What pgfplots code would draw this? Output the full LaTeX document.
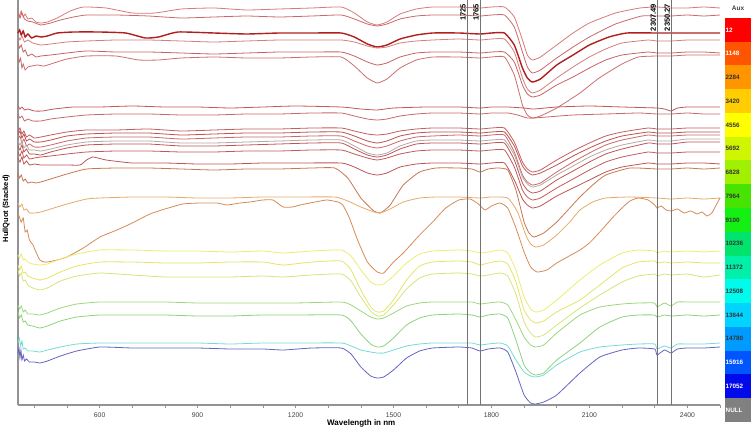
\documentclass[border=0pt]{standalone}
\usepackage{pgfplots}
\pgfplotsset{compat=1.18}
\usepackage{fontspec}
\setmainfont{Liberation Sans}

% curve colours (top to bottom)
\definecolor{c1}{RGB}{214,122,122}
\definecolor{c2}{RGB}{204,104,104}
\definecolor{c3}{RGB}{176,30,30}
\definecolor{c4}{RGB}{212,126,126}
\definecolor{c5}{RGB}{200,98,98}
\definecolor{c6}{RGB}{202,110,110}
\definecolor{c7}{RGB}{196,88,88}
\definecolor{c8}{RGB}{200,104,104}
\definecolor{c9}{RGB}{196,94,94}
\definecolor{c10}{RGB}{188,82,82}
\definecolor{c11}{RGB}{204,104,104}
\definecolor{c12}{RGB}{180,168,168}
\definecolor{c13}{RGB}{190,84,84}
\definecolor{c14}{RGB}{192,90,90}
\definecolor{c15}{RGB}{188,86,86}
\definecolor{c16}{RGB}{198,120,80}
\definecolor{c17}{RGB}{230,170,104}
\definecolor{c18}{RGB}{214,138,88}
\definecolor{c19}{RGB}{236,236,112}
\definecolor{c20}{RGB}{228,228,106}
\definecolor{c21}{RGB}{214,228,120}
\definecolor{c22}{RGB}{158,214,124}
\definecolor{c23}{RGB}{142,210,124}
\definecolor{c24}{RGB}{116,220,210}
\definecolor{c25}{RGB}{100,100,196}
% colour bar
\definecolor{cb1}{RGB}{255,0,0}
\definecolor{cb2}{RGB}{255,85,0}
\definecolor{cb3}{RGB}{255,150,0}
\definecolor{cb4}{RGB}{255,205,0}
\definecolor{cb5}{RGB}{255,255,0}
\definecolor{cb6}{RGB}{208,245,0}
\definecolor{cb7}{RGB}{160,240,0}
\definecolor{cb8}{RGB}{70,228,0}
\definecolor{cb9}{RGB}{20,240,20}
\definecolor{cb10}{RGB}{0,228,110}
\definecolor{cb11}{RGB}{0,240,170}
\definecolor{cb12}{RGB}{0,250,235}
\definecolor{cb13}{RGB}{0,212,255}
\definecolor{cb14}{RGB}{0,155,255}
\definecolor{cb15}{RGB}{0,85,255}
\definecolor{cb16}{RGB}{0,10,235}
\definecolor{cb17}{RGB}{128,128,128}

\begin{document}
\begin{tikzpicture}
\useasboundingbox (-18pt,-24pt) rectangle (735pt,405pt);
\begin{axis}[
  at={(0,0)}, anchor=south west,
  scale only axis, width=702pt, height=405pt,
  xmin=350, xmax=2500, ymin=0, ymax=405,
  y filter/.expression={405-y},
  axis x line*=bottom, axis y line*=left,
  axis line style={draw=gray!85, line width=1.2pt},
  ytick=\empty,
  xtick={600,900,...,2400},
  minor xtick={400,500,...,2500},
  tick style={draw=gray!85, line width=0.6pt},
  major tick length=3pt, minor tick length=3pt,
  tick align=outside,
  /pgf/number format/assume math mode=true,
  /pgf/number format/1000 sep={},
  xticklabel style={font=\fontsize{6.8}{7}\selectfont, text=black!75, yshift=-1pt},
  xlabel={Wavelength in nm},
  xlabel style={at={(axis description cs:0.489,0)}, anchor=center, yshift=-18pt,
    font=\bfseries\fontsize{8}{9}\selectfont},
  ylabel={HullQuot (Stacked)},
  ylabel style={at={(axis description cs:-0.017,0.485)}, anchor=center,
    font=\bfseries\fontsize{7.5}{9}\selectfont},
  clip=false,
  every axis plot/.append style={smooth, tension=0.3, line width=0.8pt},
]
% 1
\addplot[c1] coordinates {(350,12)(355,16)(360,11)(366,17)(372,14)(380,19)(392,18)(405,22)(420,23)(440,22)(470,18)(510,11)(550,7)(620,8)(700,13)(770,13)(850,9)(950,8)(1050,10)(1150,9)(1250,8)(1340,7)(1380,13)(1420,22)(1450,25)(1480,22)(1520,14)(1570,9)(1620,7)(1700,7)(1765,8)(1800,7)(1840,7)(1870,17)(1895,40)(1910,55)(1925,60)(1950,57)(2000,45)(2050,33)(2100,23)(2180,13)(2255,8)(2307,7)(2350,8)(2400,8)(2450,7)(2500,8)};
% 2
\addplot[c2] coordinates {(350,14)(356,18)(362,13)(370,19)(380,21)(395,22)(420,25)(450,23)(480,20)(520,17)(560,15)(650,15)(750,16)(850,18)(950,17)(1050,16)(1150,17)(1250,16)(1340,15)(1380,19)(1420,24)(1450,26)(1480,24)(1520,19)(1570,16)(1620,15)(1700,15)(1765,16)(1800,15)(1840,15)(1870,27)(1895,52)(1910,67)(1925,73)(1950,70)(2000,58)(2050,47)(2100,37)(2180,24)(2260,16)(2307,16)(2350,16)(2400,15)(2450,16)(2500,15)};
% 3 (thick)
\addplot[c3, line width=1.4pt] coordinates {(350,33)(355,30)(360,35)(366,31)(372,37)(380,34)(392,38)(405,36)(420,37)(440,36)(470,33)(520,32)(600,32)(680,33)(740,38)(780,37)(840,32)(950,33)(1050,34)(1150,33)(1250,33)(1340,33)(1380,37)(1420,44)(1450,47)(1480,45)(1520,39)(1570,35)(1620,33)(1700,33)(1765,34)(1800,33)(1840,33)(1870,45)(1895,68)(1910,78)(1925,82)(1950,79)(2000,65)(2050,55)(2100,45)(2160,37)(2215,33)(2307,33)(2350,33)(2400,33)(2450,33)(2500,33)};
% 4
\addplot[c4] coordinates {(350,35)(356,40)(362,36)(370,42)(380,40)(395,43)(420,45)(450,44)(500,42)(560,41)(650,40)(750,40)(850,41)(950,42)(1050,41)(1150,40)(1250,40)(1340,40)(1380,42)(1420,46)(1450,48)(1480,47)(1520,43)(1570,41)(1620,40)(1700,39)(1765,40)(1800,39)(1840,39)(1870,52)(1895,78)(1910,89)(1925,93)(1950,90)(2000,78)(2050,67)(2100,57)(2150,49)(2200,43)(2280,40)(2307,41)(2350,41)(2400,40)(2450,40)(2500,40)};
% 5
\addplot[c5] coordinates {(350,43)(355,48)(360,45)(366,52)(372,50)(380,56)(392,54)(405,57)(420,56)(450,55)(500,53)(560,51)(650,52)(750,52)(850,53)(950,54)(1050,53)(1150,52)(1250,52)(1340,52)(1380,56)(1420,62)(1450,65)(1480,63)(1520,57)(1570,53)(1620,52)(1700,52)(1765,53)(1800,52)(1840,52)(1870,62)(1895,85)(1910,94)(1925,97)(1950,95)(2000,85)(2050,77)(2100,68)(2150,60)(2200,55)(2280,52)(2307,53)(2350,53)(2400,52)(2450,52)(2500,53)};
% 6
\addplot[c6] coordinates {(350,55)(354,62)(358,58)(362,68)(366,64)(372,70)(380,67)(392,66)(410,65)(430,66)(460,63)(500,59)(560,56)(650,56)(720,60)(780,60)(850,58)(950,57)(1050,58)(1150,58)(1250,57)(1340,57)(1380,66)(1420,78)(1450,83)(1480,79)(1520,68)(1570,60)(1620,57)(1700,57)(1765,58)(1800,57)(1840,57)(1870,75)(1895,105)(1910,115)(1925,118)(1950,116)(2000,108)(2071,93)(2130,78)(2200,64)(2250,57)(2307,56)(2350,56)(2400,55)(2450,55)(2500,55)};
% 7
\addplot[c7] coordinates {(350,106)(356,109)(362,107)(370,110)(380,109)(400,111)(425,111)(460,109)(520,107)(600,107)(700,106)(800,107)(900,107)(1000,108)(1100,107)(1200,106)(1340,107)(1400,109)(1450,110)(1500,108)(1600,107)(1700,107)(1765,108)(1800,107)(1850,107)(1900,108)(1930,109)(2000,107)(2100,106)(2200,107)(2307,108)(2330,109)(2350,111)(2370,108)(2400,107)(2450,107)(2500,107)};
% 8
\addplot[c8] coordinates {(350,114)(356,118)(362,116)(370,121)(380,119)(395,121)(420,121)(450,119)(500,117)(560,115)(650,114)(750,114)(850,115)(950,115)(1050,114)(1150,114)(1250,113)(1340,113)(1380,116)(1420,119)(1450,120)(1480,119)(1520,116)(1570,114)(1620,113)(1700,113)(1765,114)(1800,113)(1850,113)(1880,115)(1910,118)(1930,118)(1970,117)(2050,115)(2150,114)(2250,113)(2307,114)(2350,114)(2400,113)(2450,114)(2500,114)};
% 9
\addplot[c9] coordinates {(350,132)(356,128)(362,134)(368,131)(376,137)(385,135)(400,138)(420,137)(450,135)(500,132)(560,130)(650,130)(750,129)(850,131)(950,130)(1050,129)(1150,129)(1250,128)(1340,128)(1380,131)(1420,134)(1450,135)(1480,134)(1520,131)(1570,129)(1620,128)(1700,128)(1765,129)(1800,128)(1840,128)(1870,142)(1895,162)(1910,169)(1925,172)(1950,170)(2000,160)(2050,151)(2100,143)(2150,136)(2200,132)(2280,128)(2307,129)(2350,129)(2400,128)(2450,128)(2500,128)};
% 10
\addplot[c10] coordinates {(350,135)(356,131)(362,138)(368,134)(376,141)(385,139)(400,142)(420,142)(450,140)(500,136)(560,134)(650,133)(750,133)(850,135)(950,134)(1050,133)(1150,133)(1250,132)(1340,132)(1380,136)(1420,141)(1450,143)(1480,141)(1520,136)(1570,133)(1620,132)(1700,132)(1765,133)(1800,132)(1840,132)(1870,146)(1895,166)(1910,172)(1925,175)(1950,173)(2000,165)(2050,156)(2100,148)(2150,141)(2200,136)(2280,132)(2307,133)(2350,133)(2400,132)(2450,132)(2500,132)};
% 11
\addplot[c11] coordinates {(350,139)(356,136)(362,143)(368,139)(376,146)(385,144)(400,147)(420,147)(450,145)(500,141)(560,138)(650,137)(750,137)(850,139)(950,138)(1050,137)(1150,137)(1250,136)(1340,136)(1380,141)(1420,146)(1450,148)(1480,146)(1520,141)(1570,137)(1620,136)(1700,135)(1765,136)(1800,135)(1840,135)(1870,152)(1895,175)(1910,182)(1925,185)(1950,183)(2000,172)(2050,162)(2100,153)(2150,145)(2200,140)(2280,135)(2307,136)(2350,136)(2400,135)(2450,135)(2500,135)};
% 12 (grey)
\addplot[c12] coordinates {(350,141)(356,145)(362,141)(368,148)(376,145)(385,150)(400,150)(420,151)(450,149)(500,145)(560,142)(650,141)(750,141)(850,143)(950,143)(1050,142)(1150,141)(1250,140)(1340,140)(1380,146)(1420,153)(1450,155)(1480,153)(1520,146)(1570,141)(1620,140)(1700,140)(1765,141)(1800,140)(1840,140)(1870,155)(1895,177)(1910,184)(1925,187)(1950,185)(2000,175)(2050,166)(2100,157)(2150,150)(2200,145)(2280,140)(2307,141)(2350,141)(2400,139)(2450,139)(2500,139)};
% 13
\addplot[c13] coordinates {(350,146)(356,150)(362,145)(368,152)(376,149)(385,154)(400,154)(420,155)(450,152)(500,148)(560,145)(650,144)(750,144)(850,146)(950,146)(1050,145)(1150,144)(1250,143)(1340,143)(1380,149)(1420,155)(1450,157)(1480,155)(1520,149)(1570,144)(1620,143)(1700,143)(1765,144)(1800,143)(1840,143)(1870,160)(1895,183)(1910,190)(1925,193)(1950,191)(2000,180)(2050,171)(2100,162)(2150,154)(2200,149)(2280,143)(2307,144)(2350,144)(2400,142)(2450,142)(2500,142)};
% 14
\addplot[c14] coordinates {(350,152)(356,156)(362,151)(368,158)(376,155)(385,159)(400,158)(420,157)(450,156)(500,154)(560,152)(650,151)(750,151)(850,152)(950,152)(1050,151)(1150,151)(1250,150)(1340,150)(1380,154)(1420,158)(1450,160)(1480,158)(1520,154)(1570,151)(1620,150)(1700,150)(1765,151)(1800,150)(1840,150)(1870,167)(1895,190)(1910,197)(1925,200)(1950,198)(2000,188)(2050,179)(2100,170)(2150,162)(2200,157)(2280,152)(2307,153)(2350,153)(2400,152)(2450,152)(2500,152)};
% 15
\addplot[c15] coordinates {(350,158)(356,162)(362,157)(368,164)(376,161)(385,165)(400,164)(420,165)(450,165)(500,165)(540,165)(560,160)(580,157)(620,160)(700,163)(800,163)(900,164)(1000,164)(1100,163)(1200,163)(1340,163)(1380,167)(1420,173)(1450,175)(1480,173)(1520,167)(1570,164)(1620,163)(1700,163)(1765,164)(1800,163)(1840,163)(1870,180)(1895,199)(1910,205)(1925,208)(1950,206)(2000,196)(2050,188)(2100,180)(2150,172)(2200,167)(2280,163)(2307,164)(2350,164)(2400,163)(2450,163)(2500,164)};
% 16
\addplot[c16] coordinates {(350,173)(355,178)(360,175)(366,181)(372,179)(380,183)(392,182)(405,183)(420,182)(450,179)(500,174)(560,169)(650,168)(750,168)(850,169)(950,170)(1050,169)(1150,169)(1250,168)(1320,168)(1360,178)(1400,198)(1440,211)(1460,213)(1490,205)(1530,185)(1580,172)(1630,168)(1700,168)(1740,169)(1765,172)(1790,169)(1820,168)(1850,170)(1875,190)(1900,222)(1915,233)(1930,237)(1960,233)(2000,222)(2040,208)(2071,197)(2110,185)(2150,175)(2224,168)(2307,169)(2350,169)(2400,168)(2450,169)(2500,168)};
% 17
\addplot[c17] coordinates {(350,203)(356,207)(362,204)(368,210)(376,209)(385,213)(400,213)(420,212)(450,209)(500,204)(560,199)(600,198)(700,197)(800,197)(900,198)(1000,198)(1100,197)(1200,197)(1320,197)(1360,201)(1400,207)(1440,212)(1460,213)(1490,209)(1530,202)(1580,198)(1630,197)(1700,197)(1765,198)(1800,197)(1850,198)(1880,212)(1905,235)(1920,244)(1935,247)(1960,245)(2000,235)(2040,222)(2071,210)(2110,202)(2150,198)(2224,197)(2307,198)(2350,199)(2400,198)(2450,199)(2500,198)};
% 18
\addplot[c18] coordinates {(350,213)(360,222)(366,218)(372,232)(378,230)(385,240)(396,245)(405,252)(417,260)(430,262)(440,262)(470,260)(500,257)(550,248)(601,237)(653,230)(700,223)(754,214)(800,209)(855,204)(907,203)(959,203)(990,205)(1030,203)(1060,202)(1100,200)(1131,200)(1162,207)(1190,207)(1214,205)(1260,202)(1296,200)(1330,202)(1345,205)(1365,218)(1390,240)(1420,262)(1450,272)(1470,273)(1500,262)(1530,253)(1580,235)(1620,222)(1660,208)(1700,200)(1735,199)(1760,204)(1780,210)(1800,206)(1826,203)(1850,208)(1875,228)(1900,252)(1920,267)(1940,272)(1970,270)(2000,263)(2071,250)(2100,243)(2132,232)(2170,218)(2200,208)(2224,201)(2250,198)(2280,200)(2300,205)(2307,208)(2320,206)(2335,210)(2350,211)(2370,209)(2390,213)(2410,211)(2430,214)(2445,212)(2460,216)(2475,213)(2485,207)(2495,201)(2500,198)};
% 19
\addplot[c19] coordinates {(350,255)(355,258)(360,254)(366,260)(372,259)(380,262)(395,264)(417,265)(440,264)(480,259)(530,254)(601,250)(700,250)(800,251)(900,251)(1000,252)(1100,251)(1162,253)(1250,251)(1340,250)(1370,256)(1400,270)(1430,282)(1450,285)(1470,284)(1500,276)(1540,263)(1580,254)(1620,251)(1700,250)(1740,251)(1765,253)(1790,252)(1826,250)(1850,253)(1875,270)(1900,297)(1920,309)(1935,312)(1960,310)(2000,300)(2071,280)(2132,265)(2200,253)(2250,250)(2300,251)(2307,253)(2330,251)(2350,252)(2400,251)(2450,252)(2500,251)};
% 20
\addplot[c20] coordinates {(350,265)(355,270)(360,266)(366,273)(372,272)(380,276)(395,278)(417,280)(440,278)(480,272)(530,266)(601,262)(700,262)(800,263)(900,263)(1000,262)(1100,262)(1162,265)(1250,262)(1340,261)(1370,270)(1400,290)(1430,307)(1450,312)(1470,311)(1500,300)(1540,280)(1580,266)(1620,262)(1700,261)(1740,262)(1765,265)(1790,263)(1826,261)(1850,264)(1875,282)(1900,310)(1920,320)(1935,323)(1960,321)(2000,312)(2071,300)(2132,285)(2200,268)(2250,262)(2300,261)(2307,263)(2330,262)(2350,263)(2400,262)(2450,263)(2500,263)};
% 21
\addplot[c21] coordinates {(350,270)(355,276)(360,273)(366,281)(372,280)(380,285)(395,288)(417,290)(440,288)(480,281)(530,276)(601,273)(700,275)(800,277)(900,277)(1000,277)(1100,276)(1162,277)(1250,275)(1340,274)(1370,281)(1400,297)(1430,311)(1450,316)(1470,315)(1500,305)(1540,289)(1580,278)(1620,274)(1700,273)(1740,274)(1765,276)(1790,275)(1826,273)(1850,276)(1875,294)(1900,322)(1920,333)(1935,337)(1960,335)(2000,325)(2071,308)(2132,295)(2200,282)(2250,276)(2300,274)(2307,276)(2330,274)(2350,275)(2400,274)(2450,277)(2500,275)};
% 22
\addplot[c22] coordinates {(350,305)(355,309)(360,306)(366,312)(372,310)(380,314)(395,314)(417,315)(440,313)(480,308)(530,304)(601,302)(700,302)(800,302)(900,303)(1000,303)(1100,303)(1200,303)(1340,302)(1370,305)(1400,311)(1430,317)(1450,319)(1470,318)(1500,313)(1540,306)(1580,303)(1620,302)(1700,302)(1740,302)(1765,304)(1790,303)(1826,302)(1850,305)(1875,320)(1900,337)(1920,345)(1935,347)(1960,345)(2000,333)(2071,315)(2132,307)(2200,304)(2250,303)(2300,303)(2307,307)(2330,303)(2350,306)(2370,302)(2400,302)(2450,302)(2500,302)};
% 23
\addplot[c23] coordinates {(350,312)(355,318)(360,315)(366,322)(372,321)(380,325)(395,326)(417,328)(440,326)(480,321)(530,317)(601,315)(700,315)(800,315)(900,316)(1000,316)(1100,315)(1200,315)(1340,315)(1370,321)(1400,334)(1430,344)(1450,347)(1470,346)(1500,338)(1540,325)(1580,318)(1620,315)(1700,314)(1740,315)(1765,317)(1790,315)(1826,314)(1850,318)(1875,340)(1900,365)(1920,373)(1935,375)(1960,373)(2000,360)(2071,343)(2132,327)(2200,317)(2250,315)(2300,315)(2307,317)(2330,315)(2350,316)(2400,315)(2450,316)(2500,315)};
% 24
\addplot[c24] coordinates {(350,343)(354,338)(358,346)(362,341)(366,349)(372,348)(380,351)(395,351)(417,352)(440,350)(480,347)(530,344)(601,343)(700,343)(800,343)(900,343)(1000,344)(1100,343)(1200,343)(1340,343)(1370,346)(1400,350)(1430,352)(1450,353)(1470,353)(1500,350)(1540,346)(1580,344)(1620,343)(1700,343)(1740,343)(1765,345)(1790,344)(1826,343)(1850,346)(1875,360)(1900,372)(1920,376)(1935,377)(1960,375)(2000,365)(2071,352)(2132,347)(2200,345)(2250,344)(2300,344)(2307,349)(2330,346)(2350,348)(2370,344)(2400,344)(2450,344)(2500,343)};
% 25
\addplot[c25] coordinates {(350,353)(353,348)(356,358)(359,350)(362,360)(366,355)(370,361)(376,359)(385,362)(400,362)(417,363)(440,361)(480,356)(530,351)(601,347)(700,348)(800,348)(900,348)(1000,349)(1100,349)(1162,350)(1250,348)(1340,348)(1370,354)(1400,367)(1430,376)(1450,378)(1470,377)(1500,370)(1540,358)(1580,351)(1620,348)(1700,347)(1740,348)(1765,351)(1790,349)(1826,348)(1850,352)(1875,372)(1900,395)(1920,403)(1935,404)(1960,402)(2000,395)(2071,373)(2132,357)(2200,350)(2250,348)(2300,349)(2307,355)(2330,350)(2350,353)(2370,349)(2400,348)(2450,348)(2500,347)};
% marker lines
\addplot[gray!90!black, line width=0.8pt, sharp plot] coordinates {(1725,0)(1725,405)};
\addplot[gray!90!black, line width=0.8pt, sharp plot] coordinates {(1765,0)(1765,405)};
\addplot[gray!90!black, line width=0.8pt, sharp plot] coordinates {(2307.49,0)(2307.49,405)};
\addplot[gray!90!black, line width=0.8pt, sharp plot] coordinates {(2350.27,0)(2350.27,405)};
\begin{scope}[every node/.style={rotate=90, anchor=south east, inner sep=1pt,
    font=\bfseries\fontsize{7.5}{8}\selectfont}]
\node at (rel axis cs:0.63953,0.993) {1725};
\node at (rel axis cs:0.65814,0.993) {1765};
\node at (rel axis cs:0.91046,0.993) {2307.49};
\node at (rel axis cs:0.93036,0.993) {2350.27};
\end{scope}
\end{axis}
% colour bar
\node[font=\bfseries\fontsize{6.5}{7}\selectfont, text=black!75] at (720pt,397pt) {Aux};
\foreach \i/\lab/\tc in {1/12/white,2/1148/white,3/2284/black!80,4/3420/black!80,
  5/4556/black!80,6/5692/black!80,7/6828/black!80,8/7964/black!80,9/9100/black!80,
  10/10236/black!80,11/11372/black!80,12/12508/black!80,13/13644/black!80,
  14/14780/black!80,15/15916/white,16/17052/white,17/NULL/white}{
  \fill[cb\i] (707pt,{387pt-(\i-1)*23.75pt}) rectangle (733pt,{387pt-\i*23.75pt});
  \node[anchor=west, inner sep=0pt, text=\tc, font=\bfseries\fontsize{6.3}{7}\selectfont]
    at (707.5pt,{387pt-(\i-0.5)*23.75pt}) {\lab};
}
\end{tikzpicture}
\end{document}
